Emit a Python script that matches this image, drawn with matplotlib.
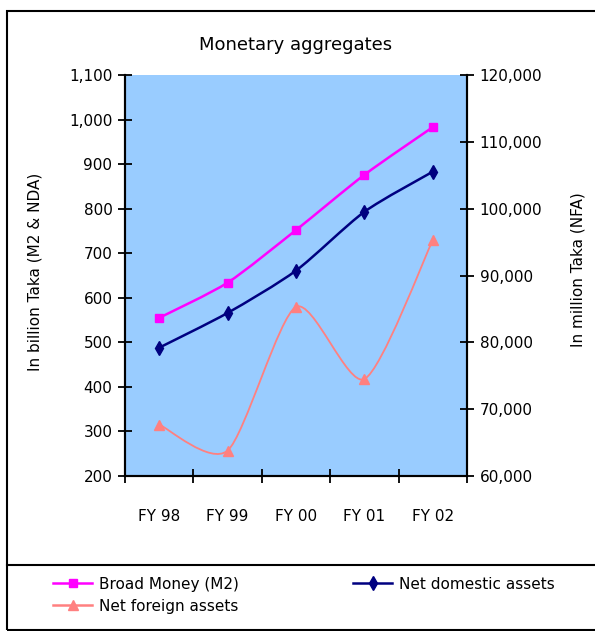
import matplotlib
matplotlib.use("Agg")
import matplotlib.pyplot as plt
from matplotlib.path import Path
from matplotlib.patches import PathPatch, Rectangle
from matplotlib.lines import Line2D
from matplotlib.ticker import FuncFormatter

plt.rcParams['font.family'] = ['DejaVu Sans']

years = ['FY 98', 'FY 99', 'FY 00', 'FY 01', 'FY 02']
broad_money = [555, 634, 752, 876, 983]          # billion Taka
net_domestic = [488, 566, 661, 793, 883]         # billion Taka
net_foreign = [67700, 63800, 85300, 74500, 95300]  # million Taka

C_BM = '#FF00FF'
C_NDA = '#000080'
C_NFA = '#FF8080'


def smooth_path(xs, ys, k=8):
    # smoothed line: cubic bezier through every point
    n = len(xs)
    verts = [(xs[0], ys[0])]
    codes = [Path.MOVETO]
    for i in range(n - 1):
        p0 = max(i - 1, 0)
        p3 = min(i + 2, n - 1)
        c1 = (xs[i] + (xs[i + 1] - xs[p0]) / k, ys[i] + (ys[i + 1] - ys[p0]) / k)
        c2 = (xs[i + 1] - (xs[p3] - xs[i]) / k, ys[i + 1] - (ys[p3] - ys[i]) / k)
        verts += [c1, c2, (xs[i + 1], ys[i + 1])]
        codes += [Path.CURVE4] * 3
    return Path(verts, codes)


fig = plt.figure(figsize=(5.95, 6.31), dpi=100)

# chart frame and legend separator
fig.patches.append(Rectangle((7 / 595, 1 / 631), 1.05, 1 - 12 / 631,
                             transform=fig.transFigure, fill=False,
                             edgecolor='black', linewidth=1.5))
fig.add_artist(Line2D([7 / 595, 1], [1 - 565 / 631] * 2, transform=fig.transFigure,
                      color='black', linewidth=1.5))

ax = fig.add_axes([125 / 595, 1 - 476 / 631, 342 / 595, 401 / 631])
ax.set_facecolor('#99CCFF')
ax2 = ax.twinx()

x = list(range(len(years)))

ax.add_patch(PathPatch(smooth_path(x, broad_money), fill=False, edgecolor=C_BM, linewidth=1.8))
ax.add_patch(PathPatch(smooth_path(x, net_domestic), fill=False, edgecolor=C_NDA, linewidth=1.8))
ax2.add_patch(PathPatch(smooth_path(x, net_foreign), fill=False, edgecolor=C_NFA, linewidth=1.3))
ax.plot(x, broad_money, linestyle='none', marker='s', markersize=6, color=C_BM)
ax.plot(x, net_domestic, linestyle='none', marker='d', markersize=7, color=C_NDA)
ax2.plot(x, net_foreign, linestyle='none', marker='^', markersize=7, color=C_NFA)

ax.set_xlim(-0.5, 4.5)
ax.set_ylim(200, 1100)
ax2.set_ylim(60000, 120000)
ax.set_yticks(range(200, 1101, 100))
ax2.set_yticks(range(60000, 120001, 10000))
comma = FuncFormatter(lambda v, p: f'{int(v):,}')
ax.yaxis.set_major_formatter(comma)
ax2.yaxis.set_major_formatter(comma)

ax.set_xticks([i - 0.5 for i in range(len(years) + 1)])
ax.set_xticklabels([])
ax.set_xticks(x, minor=True)
ax.set_xticklabels(years, minor=True)
ax.tick_params(axis='x', which='minor', length=0, pad=24, labelsize=11)
ax.tick_params(axis='x', which='major', direction='inout', length=10, width=1.3)
ax.tick_params(axis='y', direction='inout', length=10, width=1.3, labelsize=11, pad=4)
ax2.tick_params(axis='y', direction='inout', length=10, width=1.3, labelsize=11, pad=4)

for a in (ax, ax2):
    a.spines['top'].set_visible(False)
    for s in ('left', 'right', 'bottom'):
        a.spines[s].set_linewidth(1.5)

ax.set_title('Monetary aggregates', fontsize=13, pad=18)
fig.text(35 / 595, 1 - 272 / 631, 'In billion Taka (M2 & NDA)', rotation=90,
         ha='center', va='center', fontsize=11)
fig.text(578 / 595, 1 - 270 / 631, 'In million Taka (NFA)', rotation=90,
         ha='center', va='center', fontsize=11)

h_bm = Line2D([], [], color=C_BM, marker='s', markersize=6, linewidth=1.8)
h_nda = Line2D([], [], color=C_NDA, marker='d', markersize=7, linewidth=1.8)
h_nfa = Line2D([], [], color=C_NFA, marker='^', markersize=7, linewidth=1.8)
fig.legend([h_bm, h_nfa], ['Broad Money (M2)', 'Net foreign assets'],
           loc='upper left', bbox_to_anchor=(42 / 595, 1 - 566 / 631),
           frameon=False, fontsize=11, handlelength=2.6, labelspacing=0.45,
           handletextpad=0.4, borderpad=0.2)
fig.legend([h_nda], ['Net domestic assets'],
           loc='upper left', bbox_to_anchor=(342 / 595, 1 - 566 / 631),
           frameon=False, fontsize=11, handlelength=2.6,
           handletextpad=0.4, borderpad=0.2)

fig.savefig('out.png', dpi=100)
